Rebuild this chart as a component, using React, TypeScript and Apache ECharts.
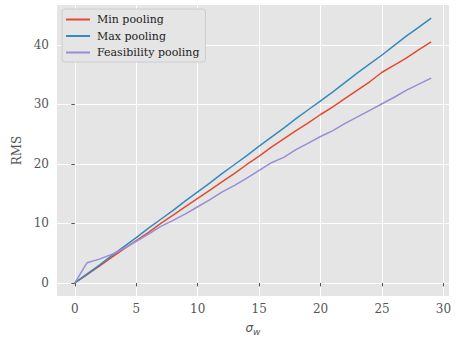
import React, { useEffect, useRef } from "react";
import * as echarts from "echarts";

const xValues = Array.from({ length: 30 }, (_, i) => i);
const minPooling = [0, 1.4, 2.8, 4.3, 5.7, 7.1, 8.5, 10.0, 11.4, 12.8, 14.2, 15.6, 17.0, 18.4, 19.9, 21.3, 22.8, 24.2, 25.6, 26.9, 28.3, 29.6, 31.0, 32.4, 33.8, 35.4, 36.6, 37.8, 39.2, 40.5];
const maxPooling = [0, 1.5, 3.0, 4.6, 6.1, 7.6, 9.2, 10.7, 12.2, 13.8, 15.3, 16.8, 18.4, 19.9, 21.4, 23.0, 24.5, 26.0, 27.6, 29.1, 30.6, 32.1, 33.7, 35.3, 36.8, 38.3, 39.9, 41.5, 43.0, 44.5];
const feasPooling = [0, 3.4, 4.0, 4.8, 5.8, 7.0, 8.2, 9.5, 10.5, 11.6, 12.8, 14.0, 15.3, 16.4, 17.6, 18.9, 20.2, 21.1, 22.4, 23.5, 24.6, 25.6, 26.8, 27.9, 29.0, 30.1, 31.2, 32.4, 33.4, 34.4];
const xTicks = [0, 5, 10, 15, 20, 25, 30];
const yTicks = [0, 10, 20, 30, 40];
const seriesNames = ["Min pooling", "Max pooling", "Feasibility pooling"];
const colors = ["#E24A33", "#348ABD", "#988ED5"];

export default function App() {
  const ref = useRef<HTMLDivElement>(null);
  useEffect(() => {
    const chart = echarts.init(ref.current!, null, { renderer: "svg" });
    const font = "'DejaVu Serif', serif";
    const data = [minPooling, maxPooling, feasPooling];
    chart.setOption({
      animation: false,
      backgroundColor: "#ffffff",
      textStyle: { fontFamily: font },
      grid: {
        left: 57, right: 7, top: 5, bottom: 41,
        backgroundColor: "#E5E5E5", show: true, borderWidth: 0,
        containLabel: false, outerBoundsMode: "none",
      },
      legend: {
        orient: "vertical",
        left: 62,
        top: 9,
        padding: [5, 6, 4, 4],
        itemGap: 5.5,
        itemWidth: 24,
        itemHeight: 2,
        icon: "rect",
        backgroundColor: "#E5E5E5",
        borderColor: "#CCCCCC",
        borderWidth: 1,
        borderRadius: 3,
        textStyle: { fontFamily: font, fontSize: 11, color: "#222222", padding: [0, 0, 0, 2] },
        data: seriesNames,
      },
      xAxis: {
        type: "value",
        min: -1.45,
        max: 30.45,
        name: "{i|σ}{s|w}",
        nameLocation: "middle",
        nameGap: 24,
        nameTextStyle: {
          rich: {
            i: { fontFamily: "'DejaVu Sans'", fontStyle: "italic", fontSize: 12, color: "#555555" },
            s: { fontFamily: "'DejaVu Sans'", fontStyle: "italic", fontSize: 9, color: "#555555", padding: [7, 0, 0, 0] },
          },
        },
        axisLine: { show: false },
        axisTick: { show: true, length: 3.5, lineStyle: { color: "#555555" }, customValues: xTicks },
        axisLabel: { color: "#555555", fontSize: 12, fontFamily: font, margin: 7, customValues: xTicks },
        splitLine: { show: true, lineStyle: { color: "#ffffff", width: 1 } },
      },
      yAxis: {
        type: "value",
        min: -2.2,
        max: 46.7,
        name: "RMS",
        nameLocation: "middle",
        nameGap: 31,
        nameTextStyle: { color: "#555555", fontSize: 12, fontFamily: font },
        axisLine: { show: false },
        axisTick: { show: true, length: 3.5, lineStyle: { color: "#555555" }, customValues: yTicks },
        axisLabel: { color: "#555555", fontSize: 12, fontFamily: font, margin: 8, customValues: yTicks },
        splitLine: { show: true, lineStyle: { color: "#ffffff", width: 1 } },
      },
      series: seriesNames.map((name, k) => ({
        name,
        type: "line",
        data: xValues.map((x, i) => [x, data[k][i]]),
        symbol: "none",
        lineStyle: { color: colors[k], width: 1.5 },
        itemStyle: { color: colors[k] },
      })),
    });
    return () => chart.dispose();
  }, []);
  return <div ref={ref} style={{ width: 456, height: 337, position: "absolute", left: 0, top: 0 }} />;
}
